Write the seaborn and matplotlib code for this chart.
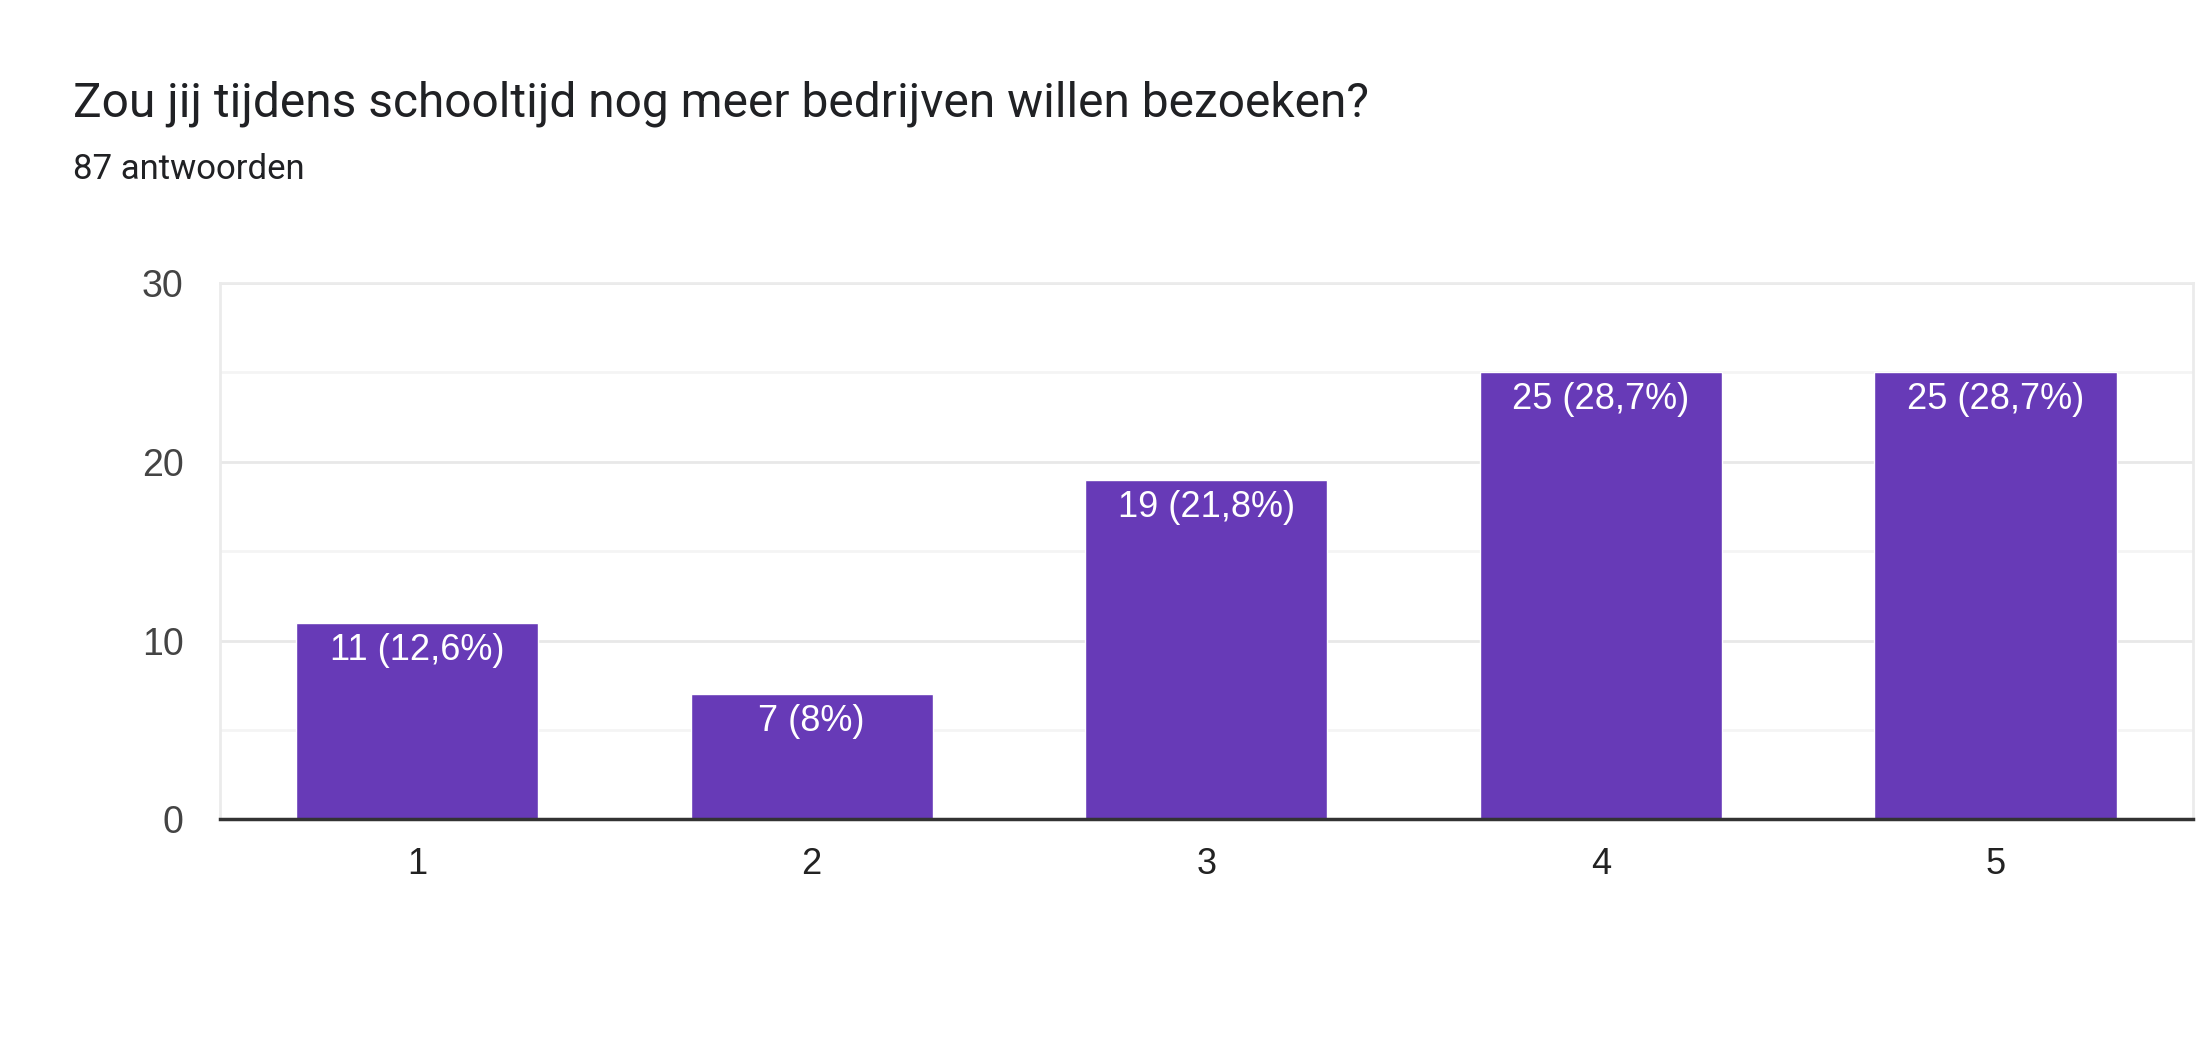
import matplotlib
matplotlib.use("Agg")
import matplotlib.pyplot as plt
import seaborn as sns
from matplotlib.ticker import MultipleLocator

categories = ["1", "2", "3", "4", "5"]
counts = [11, 7, 19, 25, 25]
labels = ["11 (12,6%)", "7 (8%)", "19 (21,8%)", "25 (28,7%)", "25 (28,7%)"]
yticks = [0, 10, 20, 30]
title = "Zou jij tijdens schooltijd nog meer bedrijven willen bezoeken?"
subtitle = "87 antwoorden"

sns.set_theme(style="white")
plt.rcParams["font.family"] = ["Liberation Sans", "DejaVu Sans"]

fig = plt.figure(figsize=(21.96, 10.44), dpi=100)
ax = fig.add_axes([0.1001, 0.2152, 0.9985 - 0.1001, 0.729 - 0.2152])

sns.barplot(x=categories, y=counts, color="#673ab7", saturation=1, width=0.614, ax=ax, zorder=3)

ax.set_xlim(-0.5, 4.5)
ax.set_ylim(0, 30)
ax.set_yticks(yticks)
ax.yaxis.set_minor_locator(MultipleLocator(5))
ax.grid(axis="y", which="major", color="#e8e8e8", linewidth=2, zorder=0)
ax.grid(axis="y", which="minor", color="#f4f4f4", linewidth=2, zorder=0)
ax.set_axisbelow(True)
ax.set_xlabel("")
ax.set_ylabel("")

for side in ["left", "top", "right"]:
    ax.spines[side].set_color("#ebebeb")
    ax.spines[side].set_linewidth(2)
ax.spines["bottom"].set_color("#333333")
ax.spines["bottom"].set_linewidth(2.5)
ax.spines["bottom"].set_zorder(5)

ax.tick_params(axis="y", which="both", length=0, pad=26, labelsize=27, labelcolor="#444444")
ax.tick_params(axis="x", length=0, pad=20, labelsize=26, labelcolor="#222222")

for patch, lab in zip(ax.patches, labels):
    cx = patch.get_x() + patch.get_width() / 2
    top = patch.get_height()
    ax.annotate(lab, xy=(cx, top), xytext=(0, -10), textcoords="offset pixels",
                ha="center", va="top", color="white", fontsize=26, zorder=6)

fig.text(0.0332, 0.901, title, fontsize=34.5, family=["Roboto", "DejaVu Sans"],
         color="#202124", va="center", ha="left")
fig.text(0.0332, 0.838, subtitle, fontsize=25, family=["Roboto", "DejaVu Sans"],
         color="#202124", va="center", ha="left")

fig.savefig("out.png", dpi=100, facecolor="white")
